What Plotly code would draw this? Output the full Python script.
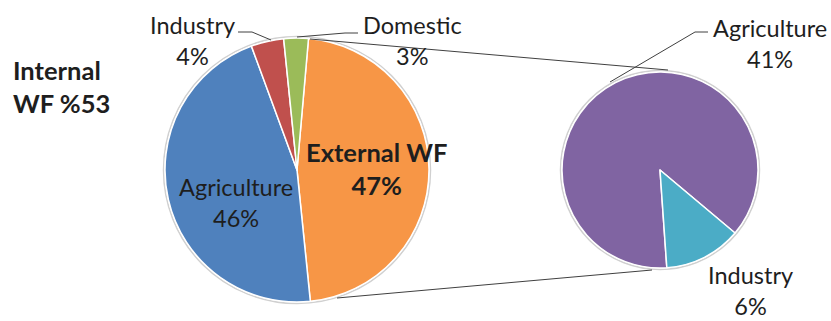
import plotly.graph_objects as go

# Water footprint split: main pie (external vs internal components)
main_labels = ["External WF", "Agriculture", "Industry", "Domestic"]
main_values = [47, 46, 4, 3]
main_colors = ["#F79646", "#4F81BD", "#C0504D", "#9BBB59"]

# Secondary pie breaking down the external share
sub_labels = ["Agriculture", "Industry"]
sub_values = [41, 6]
sub_colors = ["#8064A2", "#4BACC6"]

internal_total = sum(main_values[1:])

W, H = 831, 321
FONT = "Lato"
TXT = "#1e1e1e"


def px(x):
    return x / W


def py(y):
    return (H - y) / H


def dom(cx, cy, r):
    return dict(x=[px(cx - r), px(cx + r)], y=[py(cy + r), py(cy - r)])


fig = go.Figure()

fig.add_trace(go.Pie(
    labels=main_labels, values=main_values, sort=False,
    direction="clockwise", rotation=5,
    marker=dict(colors=main_colors, line=dict(color="white", width=1.5)),
    textinfo="none", hoverinfo="label+value",
    domain=dom(297, 170, 132), showlegend=False,
))
fig.add_trace(go.Pie(
    labels=sub_labels, values=sub_values, sort=False,
    direction="clockwise", rotation=176,
    marker=dict(colors=sub_colors, line=dict(color="white", width=1.5)),
    textinfo="none", hoverinfo="label+value",
    domain=dom(660, 170, 98), showlegend=False,
))

shapes = []
# soft rim around each pie
for cx, cy, r in [(297, 170, 132), (660, 170, 98)]:
    shapes.append(dict(type="circle", xref="paper", yref="paper",
                       x0=px(cx - r - 1.5), x1=px(cx + r + 1.5),
                       y0=py(cy + r + 1.5), y1=py(cy - r - 1.5),
                       line=dict(color="#d0d0d0", width=1.5), layer="below"))


def path(points, color="#404040", width=1):
    d = "M " + " L ".join(f"{px(x)},{py(y)}" for x, y in points)
    shapes.append(dict(type="path", xref="paper", yref="paper", path=d,
                       line=dict(color=color, width=width)))


# connectors between the two pies
path([(310, 39), (668, 70)])
path([(337, 298), (652, 270)])
# leader lines
path([(238, 32), (252, 32), (271, 40)])
path([(297, 37), (345, 33), (358, 33)])
path([(610, 82), (695, 32), (708, 32)])


def label(x, y, text, size=23.5, bold=False, align="center", xanchor="center"):
    if bold:
        text = "<b>" + text.replace("<br>", "</b><br><b>") + "</b>"
    return dict(x=px(x), y=py(y), xref="paper", yref="paper", text=text,
                showarrow=False, xanchor=xanchor, yanchor="middle", align=align,
                font=dict(family=FONT, size=size, color=TXT))


annotations = [
    label(11, 86, f"Internal<br>WF %{internal_total}", size=25.5, bold=True,
          align="left", xanchor="left"),
    label(376, 169, f"{main_labels[0]}<br>{main_values[0]}%", size=25.5, bold=True),
    label(236, 202, f"{main_labels[1]}<br>{main_values[1]}%"),
    label(192, 40, f"{main_labels[2]}<br>{main_values[2]}%"),
    label(412, 40, f"{main_labels[3]}<br>{main_values[3]}%"),
    label(770, 43, f"{sub_labels[0]}<br>{sub_values[0]}%"),
    label(750, 290, f"{sub_labels[1]}<br>{sub_values[1]}%"),
]

fig.update_layout(
    width=W, height=H, margin=dict(l=0, r=0, t=0, b=0),
    paper_bgcolor="white", plot_bgcolor="white",
    shapes=shapes, annotations=annotations,
)

fig.write_html("out.html")
